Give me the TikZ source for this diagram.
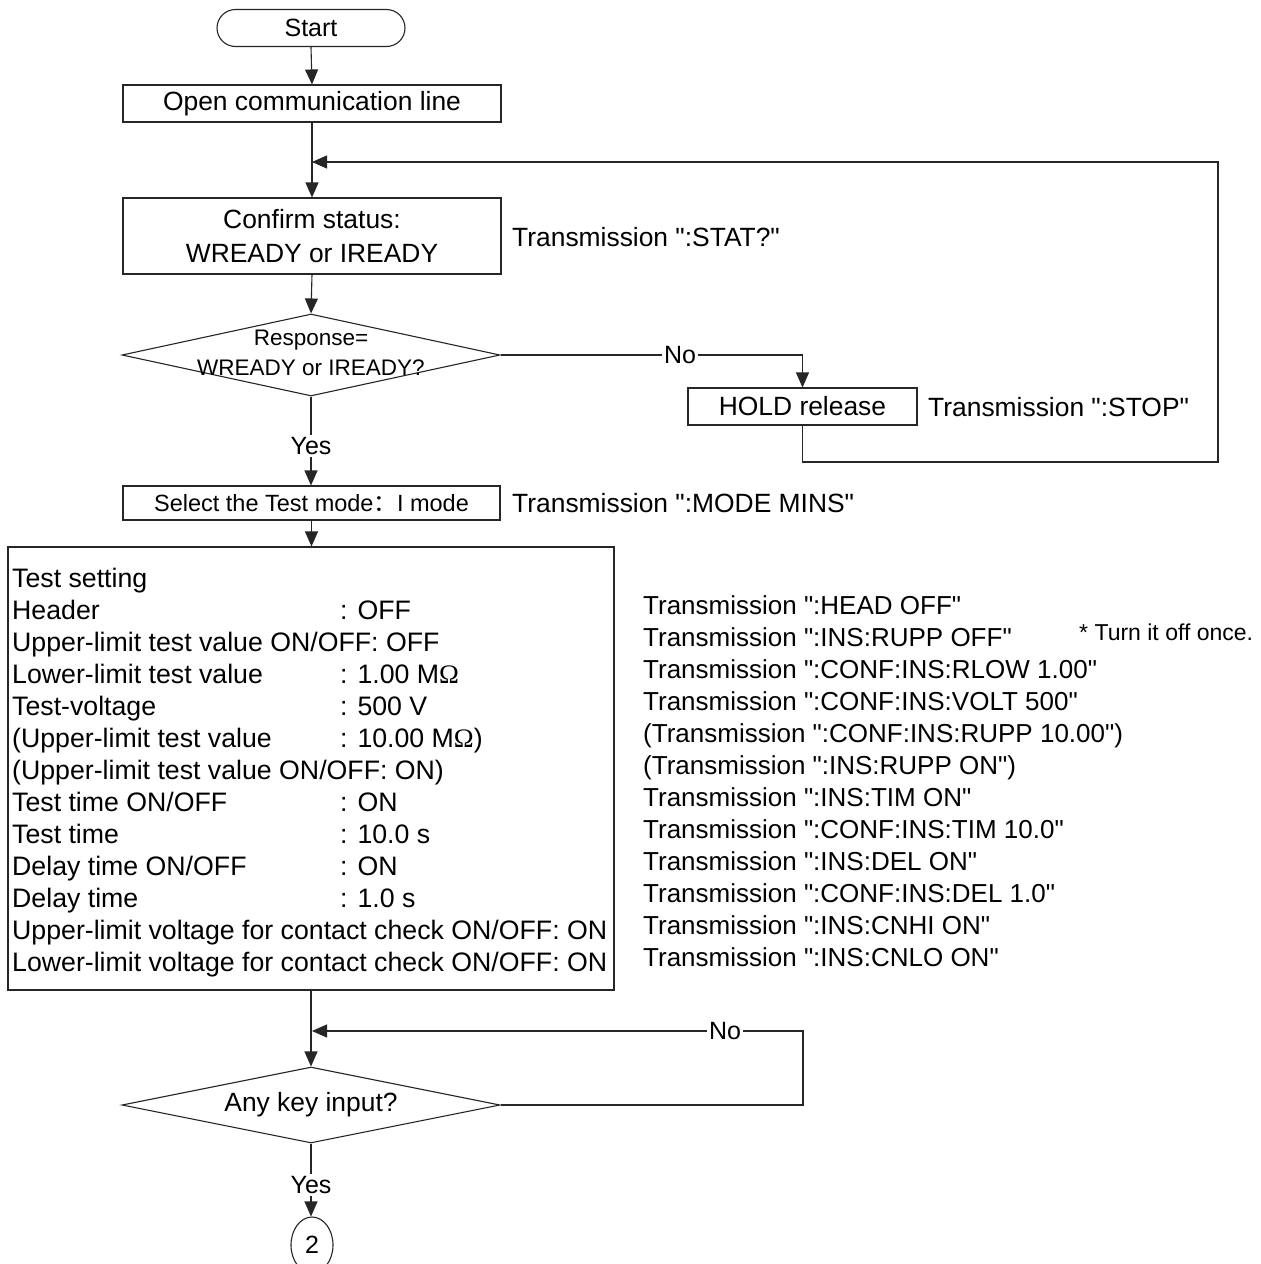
\documentclass[tikz,border=0pt]{standalone}
\usepackage{fontspec}
\setmainfont{Liberation Sans}[Ligatures=TeXOff]
\newfontfamily\omegafont{Liberation Serif}
\newfontfamily\cjk{Noto Sans CJK SC}
\usetikzlibrary{arrows.meta,shapes.misc,shapes.geometric}
\newcommand{\Ohm}{{\omegafont Ω}}
\begin{document}
\begin{tikzpicture}[x=1pt,y=-1pt,
  lw/.style={line width=1.1pt,draw=black!85},
  arr/.style={lw,-{Triangle[length=15pt,width=13pt]}},
  boxn/.style={lw,rectangle,inner sep=0pt,font=\fontsize{26.4}{34}\selectfont,align=center},
  term/.style={lw,rounded rectangle,inner sep=0pt,font=\fontsize{25}{30}\selectfont},
  dia/.style={lw,diamond,inner sep=0pt},
  txt/.style={inner sep=0pt,anchor=west,font=\fontsize{26.4}{32}\selectfont},
  ln/.style={inner sep=0pt,anchor=base west,font=\fontsize{26.7}{32}\selectfont},
  rn/.style={inner sep=0pt,anchor=base west,font=\fontsize{26}{32}\selectfont},
  lab/.style={fill=white,inner sep=2pt,font=\fontsize{25}{28}\selectfont}]
\useasboundingbox (0,0) rectangle (1261,1264);
\fill[white] (0,0) rectangle (1261,1264);

% nodes
\node[term,minimum width=188pt,minimum height=37pt] (start) at (311,28) {Start};
\node[boxn,minimum width=378pt,minimum height=37pt] (open) at (312,103.5) {Open communication line};
\coordinate (j1) at (312,162);
\node[boxn,minimum width=378pt,minimum height=76pt] (confirm) at (312,236) {Confirm status:\\WREADY or IREADY};
\node[txt] (t1) at (512,237) {Transmission ":STAT?"};
\node[dia,minimum width=378pt,minimum height=82pt] (d1) at (311,355) {};
\node[inner sep=0pt,align=center,font=\fontsize{22.5}{30}\selectfont] (d1t) at (311,353) {Response=\\WREADY or IREADY?};
\node[boxn,minimum width=229pt,minimum height=37pt] (hold) at (802.5,406.5) {HOLD release};
\node[txt] (t2) at (928,407) {Transmission ":STOP"};
\coordinate (c1) at (1218,462);
\node[boxn,minimum width=377pt,minimum height=34pt,font=\fontsize{23.5}{28}\selectfont] (select) at (311.5,503) {Select the Test mode{\cjk ：}I mode};
\node[txt] (t3) at (512,503) {Transmission ":MODE MINS"};
\node[lw,rectangle,inner sep=0pt,minimum width=606pt,minimum height=443pt] (test) at (311,768.5) {};

% test setting text
\node[ln] (s1) at (12,587) {Test setting};
\node[ln] (s2) at (12,619) {Header};
\node[ln] (v2) at (340,619) {: OFF};
\node[ln] (s3) at (12,651) {Upper-limit test value ON/OFF: OFF};
\node[ln] (s4) at (12,683) {Lower-limit test value};
\node[ln] (v4) at (340,683) {: 1.00 M\Ohm};
\node[ln] (s5) at (12,715) {Test-voltage};
\node[ln] (v5) at (340,715) {: 500 V};
\node[ln] (s6) at (12,747) {(Upper-limit test value};
\node[ln] (v6) at (340,747) {: 10.00 M\Ohm)};
\node[ln] (s7) at (12,779) {(Upper-limit test value ON/OFF: ON)};
\node[ln] (s8) at (12,811) {Test time ON/OFF};
\node[ln] (v8) at (340,811) {: ON};
\node[ln] (s9) at (12,843) {Test time};
\node[ln] (v9) at (340,843) {: 10.0 s};
\node[ln] (s10) at (12,875) {Delay time ON/OFF};
\node[ln] (v10) at (340,875) {: ON};
\node[ln] (s11) at (12,907) {Delay time};
\node[ln] (v11) at (340,907) {: 1.0 s};
\node[ln] (s12) at (12,939) {Upper-limit voltage for contact check ON/OFF: ON};
\node[ln] (s13) at (12,971) {Lower-limit voltage for contact check ON/OFF: ON};

% transmission column
\node[rn] (r1) at (643,614) {Transmission ":HEAD OFF"};
\node[rn] (r2) at (643,646) {Transmission ":INS:RUPP OFF"};
\node[rn,font=\fontsize{23}{28}\selectfont] (note) at (1079,640) {* Turn it off once.};
\node[rn] (r3) at (643,678) {Transmission ":CONF:INS:RLOW 1.00"};
\node[rn] (r4) at (643,710) {Transmission ":CONF:INS:VOLT 500"};
\node[rn] (r5) at (643,742) {(Transmission ":CONF:INS:RUPP 10.00")};
\node[rn] (r6) at (643,774) {(Transmission ":INS:RUPP ON")};
\node[rn] (r7) at (643,806) {Transmission ":INS:TIM ON"};
\node[rn] (r8) at (643,838) {Transmission ":CONF:INS:TIM 10.0"};
\node[rn] (r9) at (643,870) {Transmission ":INS:DEL ON"};
\node[rn] (r10) at (643,902) {Transmission ":CONF:INS:DEL 1.0"};
\node[rn] (r11) at (643,934) {Transmission ":INS:CNHI ON"};
\node[rn] (r12) at (643,966) {Transmission ":INS:CNLO ON"};

\coordinate (j2) at (312,1031);
\node[dia,minimum width=378pt,minimum height=76pt] (d2) at (311,1105) {};
\node[inner sep=0pt,font=\fontsize{26.4}{30}\selectfont] (d2t) at (311,1105) {Any key input?};
\coordinate (c4) at (803,1031);
\node[lw,ellipse,inner sep=0pt,minimum width=42pt,minimum height=56pt,font=\fontsize{25}{28}\selectfont] (conn) at (312,1245) {2};

% connectors
\draw[arr] (start.south) -- (open.north);
\draw[arr] (open.south) -- (confirm.north);
\draw[arr] (confirm.south) -- (d1.north);
\draw[arr] (d1.east) -| (hold.north);
\draw[arr] (hold.south) |- (c1) |- (j1);
\draw[arr] (d1.south) -- (d1.south |- select.north);
\draw[arr] (select.south) -- (select.south |- test.north);
\draw[arr] (test.south) -- (test.south |- d2.north);
\draw[arr] (d2.east) -| (c4) -- (j2);
\draw[arr] (d2.south) -- (d2.south |- conn.north);

% labels on connectors
\node[lab] (no1) at (680,355) {No};
\node[lab] (yes1) at (311,446) {Yes};
\node[lab] (no2) at (725,1031) {No};
\node[lab] (yes2) at (311,1185) {Yes};
\end{tikzpicture}
\end{document}
